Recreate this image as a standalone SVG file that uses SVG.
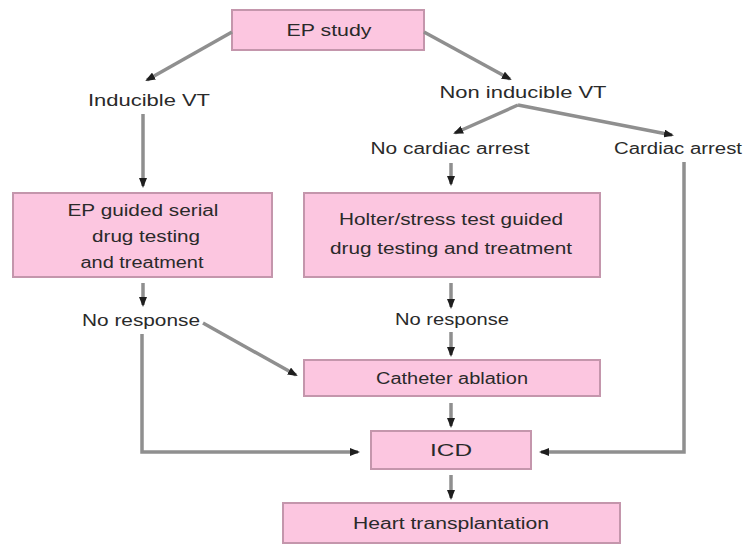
<svg xmlns="http://www.w3.org/2000/svg" width="744" height="547" viewBox="0 0 744 547">
<defs>
<marker id="ah" markerWidth="10" markerHeight="8" refX="8" refY="4" orient="auto" markerUnits="userSpaceOnUse"><path d="M0,0 L10,4 L0,8 Z" fill="#1e1e1e"/></marker>
<style>
.box{fill:#fcc6e0;stroke:#c496ac;stroke-width:2}
.t{font-family:"Liberation Sans",Arial,sans-serif;font-size:16px;fill:#2a2a2a;text-anchor:middle}
.c{fill:none;stroke:#8f8f8f;stroke-width:3.5;marker-end:url(#ah)}
</style>
</defs>
<rect width="744" height="547" fill="#fff"/>
<g id="n-ep"><rect class="box" x="232" y="10" width="192" height="40"/><text class="t" x="329" y="36" textLength="85" lengthAdjust="spacingAndGlyphs">EP study</text></g>
<g id="n-ind"><text class="t" x="149" y="106" textLength="122" lengthAdjust="spacingAndGlyphs">Inducible VT</text></g>
<g id="n-nonind"><text class="t" x="523" y="98" textLength="167" lengthAdjust="spacingAndGlyphs">Non inducible VT</text></g>
<g id="n-nca"><text class="t" x="450" y="154" textLength="159" lengthAdjust="spacingAndGlyphs">No cardiac arrest</text></g>
<g id="n-ca"><text class="t" x="678" y="154" textLength="128" lengthAdjust="spacingAndGlyphs">Cardiac arrest</text></g>
<g id="n-epg"><rect class="box" x="13" y="193" width="259" height="84"/><text class="t" x="143" y="216" textLength="151" lengthAdjust="spacingAndGlyphs">EP guided serial</text><text class="t" x="146" y="242" textLength="108" lengthAdjust="spacingAndGlyphs">drug testing</text><text class="t" x="142" y="268" textLength="123" lengthAdjust="spacingAndGlyphs">and treatment</text></g>
<g id="n-holter"><rect class="box" x="304" y="193" width="296" height="84"/><text class="t" x="451" y="225" textLength="224" lengthAdjust="spacingAndGlyphs">Holter/stress test guided</text><text class="t" x="451" y="254" textLength="242" lengthAdjust="spacingAndGlyphs">drug testing and treatment</text></g>
<g id="n-nr1"><text class="t" x="141" y="326" textLength="118" lengthAdjust="spacingAndGlyphs">No response</text></g>
<g id="n-nr2"><text class="t" x="452" y="325" textLength="114" lengthAdjust="spacingAndGlyphs">No response</text></g>
<g id="n-cath"><rect class="box" x="304" y="360" width="296" height="36"/><text class="t" x="452" y="384" textLength="152" lengthAdjust="spacingAndGlyphs">Catheter ablation</text></g>
<g id="n-icd"><rect class="box" x="371" y="431" width="160" height="38"/><text class="t" x="451" y="456" textLength="42" lengthAdjust="spacingAndGlyphs">ICD</text></g>
<g id="n-ht"><rect class="box" x="283" y="503" width="337" height="40"/><text class="t" x="451" y="529" textLength="196" lengthAdjust="spacingAndGlyphs">Heart transplantation</text></g>
<g id="connectors">
<path class="c" d="M232,32 L147,80"/>
<path class="c" d="M424,32 L510,79"/>
<path class="c" d="M518,105 L455,133"/>
<path class="c" d="M518,105 L672,135"/>
<path class="c" d="M143,114 L143,186"/>
<path class="c" d="M451,163 L451,184"/>
<path class="c" d="M684,162 L684,452 L541,452"/>
<path class="c" d="M143,283 L143,305"/>
<path class="c" d="M203,323 L296,375"/>
<path class="c" d="M142,334 L142,452 L358,452"/>
<path class="c" d="M451,283 L451,307"/>
<path class="c" d="M451,332 L451,355"/>
<path class="c" d="M451,403 L451,426"/>
<path class="c" d="M451,475 L451,498"/>
</g>
</svg>
